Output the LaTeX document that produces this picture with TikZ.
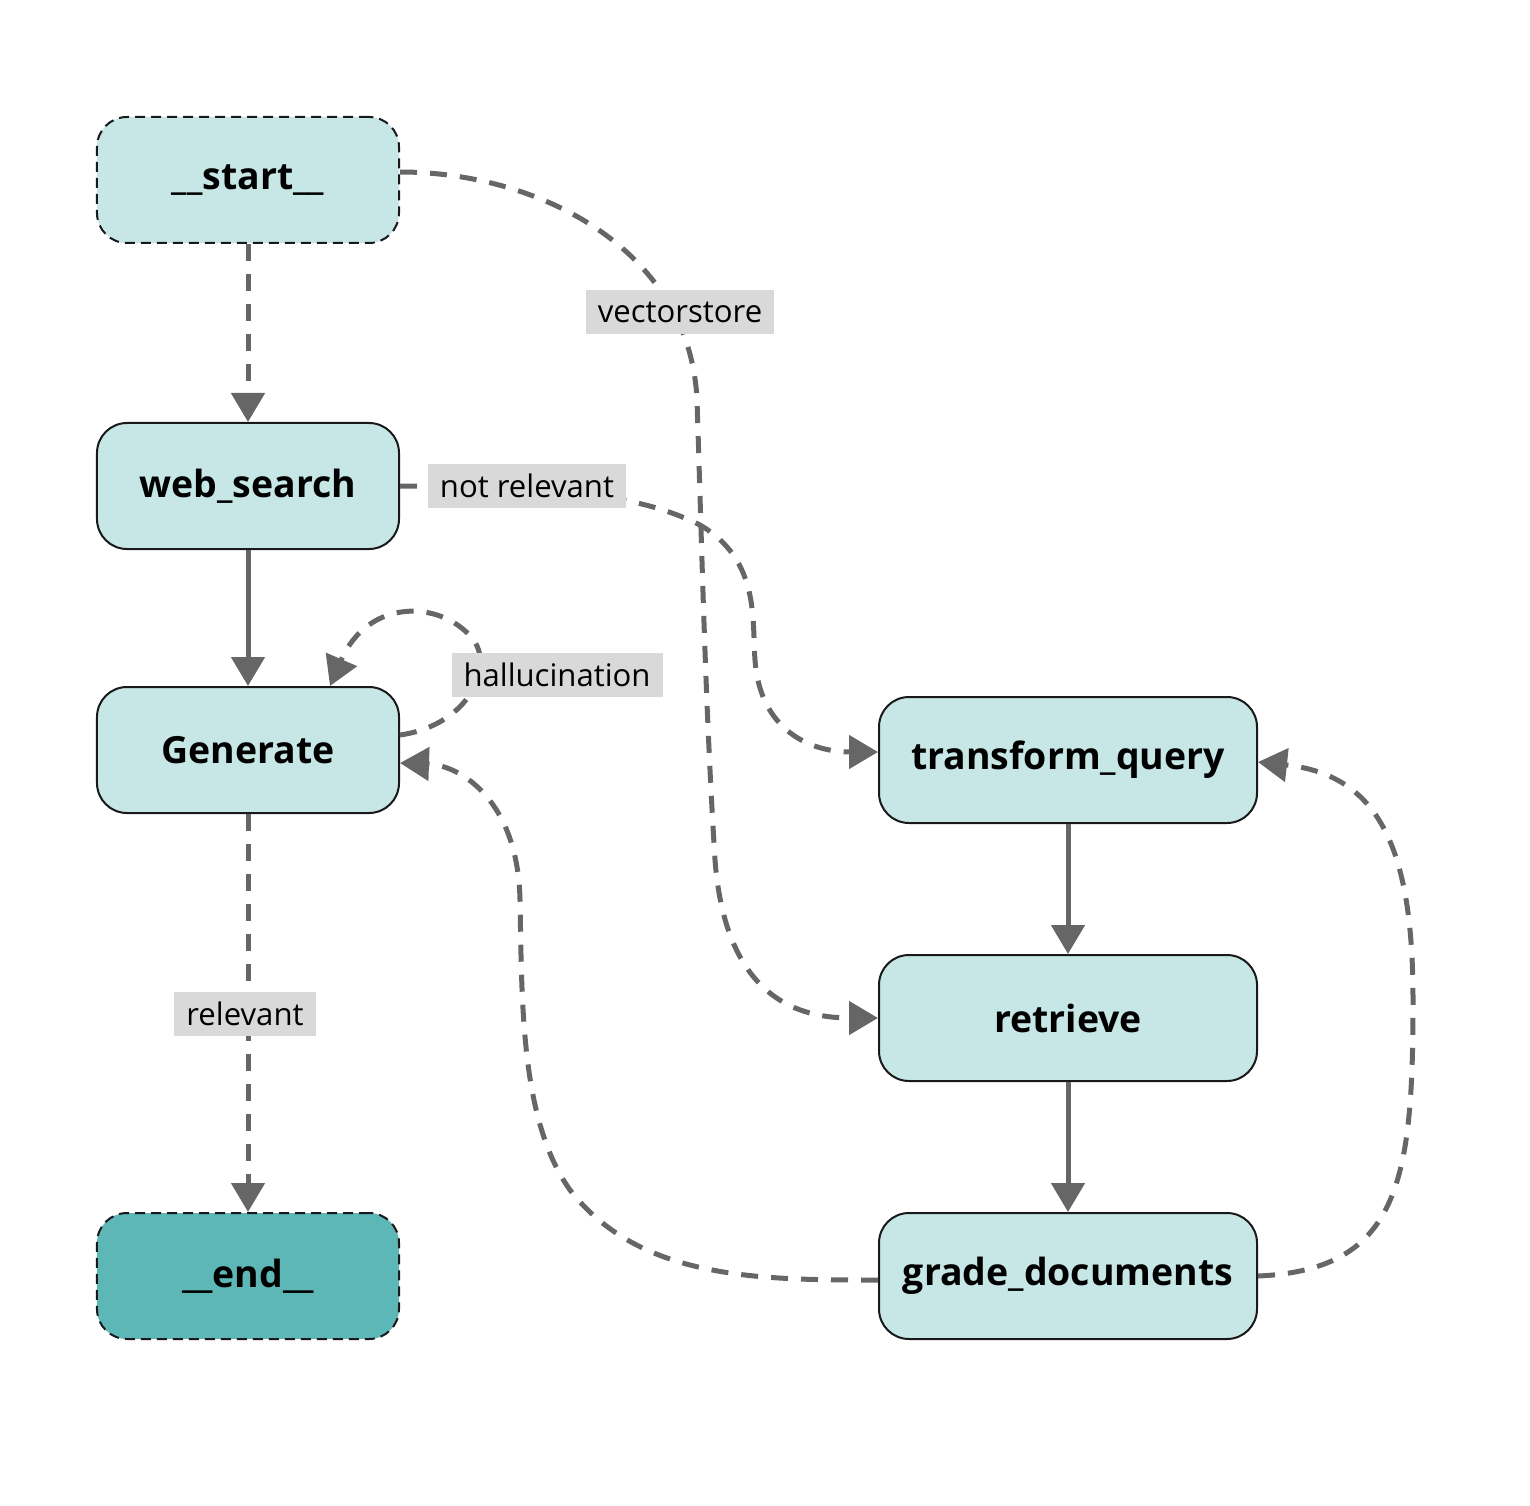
\documentclass[tikz,border=0pt]{standalone}
\usepackage{fontspec}
\setsansfont{Open Sans}
\usetikzlibrary{
  arrows.meta,
  positioning}
\definecolor{nodeFill}{HTML}{C6E7E5}
\definecolor{endFill}{HTML}{5DB7B6}
\definecolor{edgeGray}{HTML}{666666}
\definecolor{labelGray}{HTML}{D9D9D9}
\tikzset{
  step node/.style={%
    fill=nodeFill,
    draw=black!90, line width=0.4mm, rounded corners=6mm,
    % all boxes share the same height, only the width changes
    minimum width=60.4mm,
    minimum height=25.2mm,
    align=center,
    font=\sffamily\bfseries\fontsize{21.3}{25}\selectfont
  },
  terminal/.style={%
    step node,
    dash pattern=on 2mm off 1.2mm
  },
  wide node/.style={%
    step node,
    minimum width=75.6mm
  },
  edge label/.style={%
    fill=labelGray,
    inner xsep=2.4mm, inner ysep=0mm,
    minimum height=8.8mm,
    font=\sffamily\fontsize{17.7}{20}\selectfont
  },
  flow/.style={%
    draw=edgeGray, line width=1mm,
    -{Triangle[length=5.8mm,width=6.6mm]}
  },
  cond/.style={%
    flow,
    dash pattern=on 3.4mm off 2.6mm
  }%
}

\begin{document}
\begin{tikzpicture}[x=0.2mm,y=-0.2mm]
\useasboundingbox (0,0) rectangle (1530,1506);

% Left column
\node[terminal] (start) at (248,180) {\_\_start\_\_};
\node[step node] (webSearch) at (248,486) {web\_search};
\node[step node] (generate) at (248,750) {Generate};
\node[terminal, fill=endFill] (end) at (248,1276) {\_\_end\_\_};

% Right column
\node[wide node] (transformQuery) at (1068,760) {transform\_query};
\node[wide node] (retrieve) at (1068,1018) {retrieve};
\node[wide node] (gradeDocs) at (1068,1276) {grade\_documents};

% Plain edges
\draw[cond] (start) -- (webSearch);
\draw[flow] (webSearch) -- (generate);
\draw[flow] (transformQuery) -- (retrieve);
\draw[flow] (retrieve) -- (gradeDocs);
\draw[cond] (generate) -- (end);

% Conditional edges, curved
\draw[cond] ([yshift=1.6mm]start.east)
  .. controls (540,172) and (690,250) .. (697,400)
  .. controls (702,550) and (705,700) .. (715,860)
  .. controls (725,990) and (790,1018) .. (retrieve.west);
\draw[cond] (webSearch.east)
  .. controls (560,486) and (640,495) .. (700,525)
  .. controls (760,560) and (752,620) .. (755,660)
  .. controls (760,730) and (810,752) .. ([yshift=1.6mm]transformQuery.west);
\draw[cond] ([yshift=3mm]generate.east)
  .. controls (470,725) and (495,665) .. (472,638)
  .. controls (440,600) and (368,598) .. ([xshift=16.4mm]generate.north);
\draw[cond] ([yshift=-0.8mm]gradeDocs.west)
  .. controls (760,1280) and (640,1280) .. (570,1190)
  .. controls (520,1120) and (522,1000) .. (520,900)
  .. controls (518,800) and (460,765) .. ([yshift=-2.6mm]generate.east);
\draw[cond] (gradeDocs.east)
  .. controls (1400,1270) and (1413,1180) .. (1413,1000)
  .. controls (1413,850) and (1380,775) .. ([yshift=-0.4mm]transformQuery.east);

% Labels sit on top of the edges
\node[edge label] (vectorLabel) at (680,312) {vectorstore};
\node[edge label] (notRelevantLabel) at (527,486) {not relevant};
\node[edge label] (halluLabel) at (557,675) {hallucination};
\node[edge label] (relevantLabel) at (245,1014) {relevant};

\end{tikzpicture}
\end{document}
